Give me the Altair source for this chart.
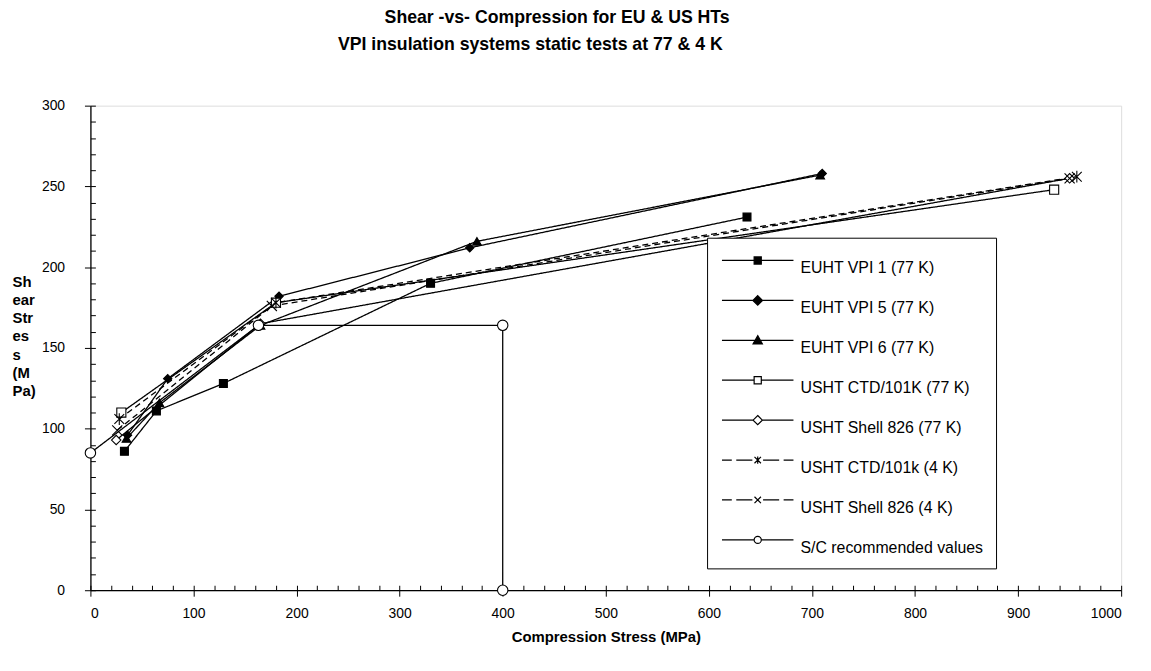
import altair as alt
import pandas as pd

# ---------------- data ----------------
series_names = [
    "EUHT VPI 1 (77 K)", "EUHT VPI 5 (77 K)", "EUHT VPI 6 (77 K)",
    "USHT CTD/101K (77 K)", "USHT Shell 826 (77 K)", "USHT CTD/101k (4 K)",
    "USHT Shell 826 (4 K)", "S/C recommended values",
]
vpi1_x = [33, 64, 129, 330, 637]
vpi1_y = [86, 111, 128, 190, 231]
vpi5_x = [36, 75, 183, 368, 710]
vpi5_y = [96, 131, 182, 212, 258]
vpi6_x = [35, 67, 165, 375, 708]
vpi6_y = [94, 116, 164, 216, 257]
ctd77_x = [30, 180, 935]
ctd77_y = [110, 178, 248]
shell77_x = [25, 165, 950]
shell77_y = [93, 165, 255]
ctd4_x = [28, 180, 957]
ctd4_y = [106, 178, 256]
shell4_x = [26, 176, 950]
shell4_y = [99, 176, 255]
sc_x = [0, 163, 400, 400]
sc_y = [85, 164, 164, 0]

x_ticks = list(range(0, 1001, 100))
y_ticks = list(range(0, 301, 50))
title_1 = "Shear -vs- Compression for EU & US HTs"
title_2 = "VPI insulation systems static tests at 77 & 4 K"
x_title = "Compression Stress (MPa)"
y_title = ["Sh", "ear", "Str", "es", "s", "(M", "Pa)"]

all_x = [vpi1_x, vpi5_x, vpi6_x, ctd77_x, shell77_x, ctd4_x, shell4_x, sc_x]
all_y = [vpi1_y, vpi5_y, vpi6_y, ctd77_y, shell77_y, ctd4_y, shell4_y, sc_y]
rows = []
for name, xs, ys in zip(series_names, all_x, all_y):
    for i, (xv, yv) in enumerate(zip(xs, ys)):
        rows.append({"series": name, "x": xv, "y": yv, "i": i})
df = pd.DataFrame(rows)

FONT = "Liberation Sans"
BLACK, WHITE = "#000000", "#ffffff"

# ---------------- marker styles ----------------
X_PATH = "M-1,-1L1,1M-1,1L1,-1"
AST_PATH = "M-1,-1L1,1M-1,1L1,-1M0,-1.2L0,1.2"
plot_shapes = ["square", "diamond", "triangle-up", "square", "diamond",
               AST_PATH, X_PATH, "circle"]
plot_sizes = [64, 110, 100, 64, 100, 70, 80, 72]
fills = [BLACK, BLACK, BLACK, WHITE, WHITE, WHITE, WHITE, WHITE]
dashes = [[1, 0]] * 5 + [[6, 4]] * 2 + [[1, 0]]

# legend symbols: line + marker drawn as one custom path
DY = -0.45


def _line(open_gap=None, dashed=False):
    if dashed:
        segs = [(-2.0, -1.45), (-1.2, -0.3), (0.3, 1.2), (1.45, 2.0)]
    elif open_gap:
        segs = [(-2.0, -open_gap), (open_gap, 2.0)]
    else:
        segs = [(-2.0, 2.0)]
    return "".join(f"M{a},{DY}L{b},{DY}" for a, b in segs)


def _square(m):
    return f"M{-m},{DY - m}L{m},{DY - m}L{m},{DY + m}L{-m},{DY + m}Z"


def _diamond(m):
    return f"M0,{DY - m}L{m},{DY}L0,{DY + m}L{-m},{DY}Z"


def _triangle(m):
    return f"M0,{DY - m}L{m},{DY + 0.8 * m}L{-m},{DY + 0.8 * m}Z"


def _circle(m):
    return (f"M{-m},{DY}A{m},{m} 0 1,0 {m},{DY}"
            f"A{m},{m} 0 1,0 {-m},{DY}Z")


def _x(m):
    return f"M{-m},{DY - m}L{m},{DY + m}M{-m},{DY + m}L{m},{DY - m}"


legend_shapes = [
    _line() + _square(0.2),
    _line() + _diamond(0.27),
    _line() + _triangle(0.26),
    _line(open_gap=0.2) + _square(0.2),
    _line(open_gap=0.26) + _diamond(0.26),
    _line(dashed=True) + _x(0.18) + f"M0,{DY - 0.2}L0,{DY + 0.2}",
    _line(dashed=True) + _x(0.18),
    _line(open_gap=0.2) + _circle(0.2),
]

base = alt.Chart(df)
x_scale = alt.Scale(domain=[0, 1000], nice=False, zero=False)
y_scale = alt.Scale(domain=[0, 300], nice=False, zero=False)

lines = base.mark_line(color=BLACK, strokeWidth=1.3).encode(
    x=alt.X("x:Q", scale=x_scale, axis=None),
    y=alt.Y("y:Q", scale=y_scale, axis=None),
    detail="series:N",
    order="i:Q",
    strokeDash=alt.StrokeDash("series:N", scale=alt.Scale(domain=series_names, range=dashes), legend=None),
)

points = base.mark_point(stroke=BLACK, strokeWidth=1.1, opacity=1).encode(
    x=alt.X("x:Q", scale=x_scale, axis=alt.Axis(
        orient="bottom", values=x_ticks, format="d", title=x_title, grid=False,
        tickSize=6, tickColor=BLACK, domainColor=BLACK, domainWidth=1.3,
        labelFont=FONT, labelFontSize=14, labelColor=BLACK, labelPadding=10,
        titleFont=FONT, titleFontSize=15, titleFontWeight="bold", titleColor=BLACK,
        titlePadding=10)),
    y=alt.Y("y:Q", scale=y_scale, axis=alt.Axis(
        orient="left", values=y_ticks, title=y_title, grid=False,
        tickSize=6, tickColor=BLACK, domainColor=BLACK, domainWidth=1.3,
        labelFont=FONT, labelFontSize=14, labelColor=BLACK, labelPadding=20,
        titleFont=FONT, titleFontSize=15, titleFontWeight="bold", titleColor=BLACK,
        titleAngle=0, titleAlign="left", titleBaseline="top", titleX=-79, titleY=170,
        titleLineHeight=18.3)),
    shape=alt.Shape("series:N", scale=alt.Scale(domain=series_names, range=plot_shapes), legend=None),
    fill=alt.Fill("series:N", scale=alt.Scale(domain=series_names, range=fills), legend=None),
    size=alt.Size("series:N", scale=alt.Scale(domain=series_names, range=plot_sizes), legend=None),
)

minor = base.mark_point(opacity=0).encode(
    x=alt.X("x:Q", scale=x_scale, axis=alt.Axis(
        orient="top", offset=-488, values=list(range(0, 1001, 20)), labels=False,
        domain=False, grid=False, title=None, tickSize=5, tickColor=BLACK)),
    y=alt.Y("y:Q", scale=y_scale, axis=alt.Axis(
        orient="right", offset=-1038, values=list(range(0, 301, 10)), labels=False,
        domain=False, grid=False, title=None, tickSize=5, tickColor=BLACK)),
)

leg = alt.Legend(
    orient="none", legendX=621, legendY=133, title=None,
    symbolSize=1296, symbolStrokeColor=BLACK, symbolStrokeWidth=1.2, symbolOpacity=1,
    labelFont=FONT, labelFontSize=16, labelColor=BLACK, labelLimit=400,
    labelOffset=24, symbolOffset=20, rowPadding=13.2, padding=12,
    strokeColor=BLACK, fillColor=WHITE,
)
legend_layer = base.mark_point(opacity=0, size=1296, strokeWidth=1.2).encode(
    x=alt.X("x:Q", scale=x_scale, axis=None),
    y=alt.Y("y:Q", scale=y_scale, axis=None),
    shape=alt.Shape("series:N", scale=alt.Scale(domain=series_names, range=legend_shapes), legend=leg),
    fill=alt.Fill("series:N", scale=alt.Scale(domain=series_names, range=fills), legend=leg),
    stroke=alt.Stroke("series:N", scale=alt.Scale(domain=series_names, range=[BLACK] * 8), legend=leg),
)

title1 = alt.Chart(pd.DataFrame({"t": [title_1]})).mark_text(
    font=FONT, fontSize=17.8, fontWeight="bold", color=BLACK, align="center", baseline="middle"
).encode(text="t:N", x=alt.value(470), y=alt.value(-88))
title2 = alt.Chart(pd.DataFrame({"t": [title_2]})).mark_text(
    font=FONT, fontSize=17.8, fontWeight="bold", color=BLACK, align="center", baseline="middle"
).encode(text="t:N", x=alt.value(443), y=alt.value(-61))

chart = alt.layer(lines, points, minor, legend_layer, title1, title2).resolve_scale(
    shape="independent", fill="independent", size="independent",
    strokeDash="independent", stroke="independent"
).resolve_axis(x="independent", y="independent").properties(
    width=1038, height=488,
    autosize=alt.AutoSizeParams(type="none"),
    padding={"left": 83, "top": 96, "right": 22, "bottom": 79},
).configure_view(stroke=None).configure(background="white")

chart.save("out.html", embed_options={"renderer": "svg", "actions": False})
